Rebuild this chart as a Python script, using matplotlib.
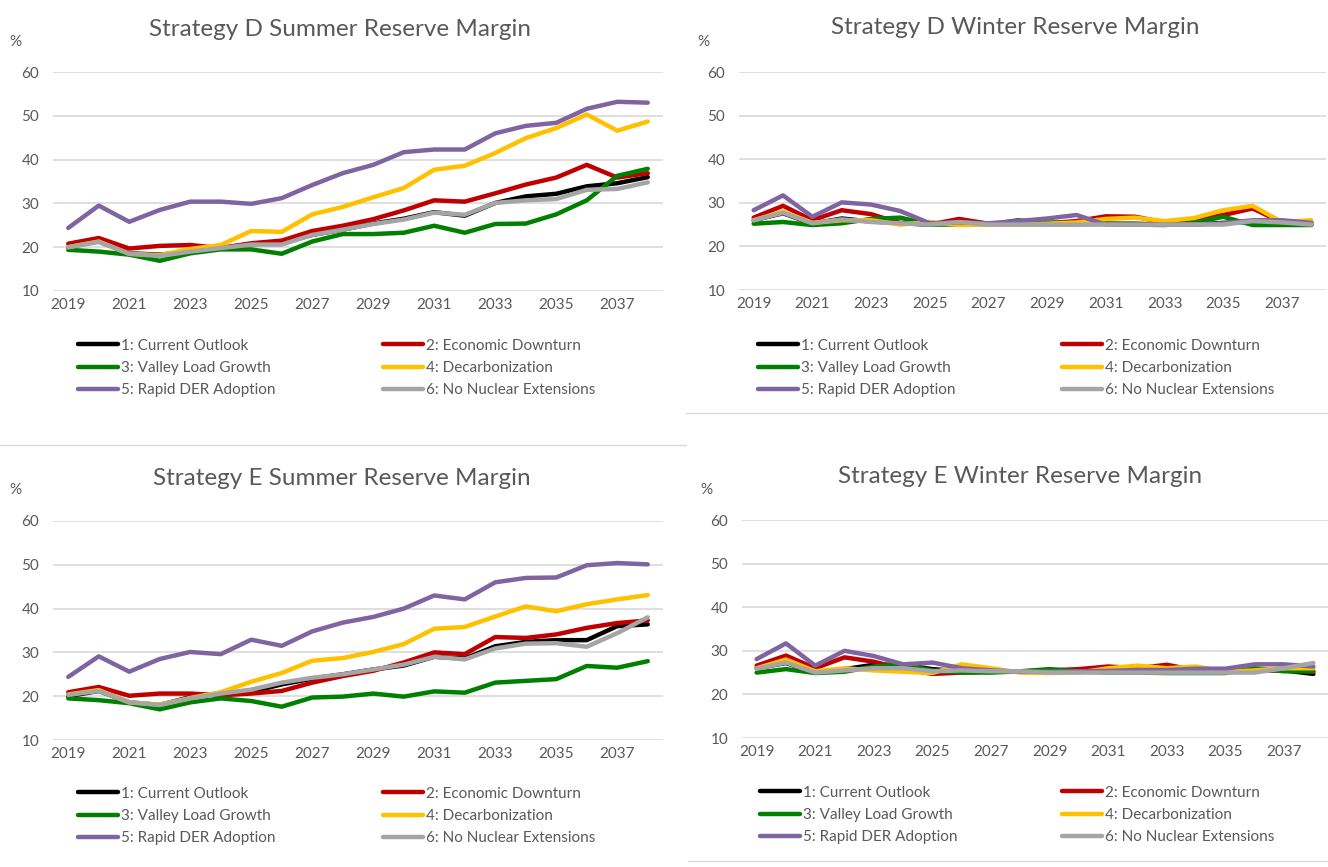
import matplotlib
matplotlib.use("Agg")
import matplotlib.pyplot as plt
from matplotlib.lines import Line2D
import numpy as np

plt.rcParams['font.family'] = ['Lato', 'DejaVu Sans']

years = np.arange(2019, 2039)
scenarios = ["1: Current Outlook", "2: Economic Downturn", "3: Valley Load Growth",
             "4: Decarbonization", "5: Rapid DER Adoption", "6: No Nuclear Extensions"]
colors = ["#000000", "#C00000", "#008000", "#FFC000", "#8064A2", "#A5A5A5"]

# reserve margin (%) per scenario, in the same order as `scenarios`
d_summer = [
    [20.0, 21.4, 18.6, 18.3, 19.0, 19.8, 20.7, 21.0, 22.8, 24.0, 25.4, 26.5, 28.0, 27.2, 30.1, 31.6, 32.2, 33.9, 34.6, 36.0],
    [20.8, 22.1, 19.7, 20.3, 20.5, 19.8, 20.9, 21.5, 23.7, 24.9, 26.4, 28.4, 30.7, 30.4, 32.3, 34.3, 35.9, 38.8, 35.9, 36.9],
    [19.4, 19.0, 18.3, 16.9, 18.6, 19.5, 19.5, 18.5, 21.3, 23.0, 23.0, 23.3, 24.9, 23.3, 25.3, 25.4, 27.5, 30.7, 36.3, 37.9],
    [20.0, 21.3, 18.5, 18.2, 19.6, 20.5, 23.7, 23.5, 27.5, 29.2, 31.4, 33.5, 37.7, 38.6, 41.5, 44.9, 47.2, 50.3, 46.6, 48.7],
    [24.4, 29.5, 25.8, 28.5, 30.4, 30.4, 29.9, 31.2, 34.2, 36.9, 38.8, 41.7, 42.3, 42.3, 46.0, 47.7, 48.4, 51.6, 53.2, 53.0],
    [20.0, 21.2, 18.5, 18.0, 19.0, 19.8, 20.6, 20.6, 22.8, 24.0, 25.3, 26.3, 27.9, 27.4, 30.1, 30.7, 31.0, 33.1, 33.3, 34.8],
]
d_winter = [
    [26.0, 27.6, 25.2, 26.4, 25.7, 25.4, 25.0, 25.6, 25.0, 25.1, 25.1, 25.1, 25.2, 25.2, 25.0, 25.0, 25.4, 25.6, 25.3, 25.0],
    [26.6, 29.3, 26.0, 28.3, 27.4, 25.3, 25.0, 26.3, 25.2, 25.3, 25.3, 25.8, 26.9, 26.8, 25.5, 26.2, 27.2, 28.7, 25.5, 25.5],
    [25.2, 25.6, 24.9, 25.3, 26.3, 26.6, 25.0, 25.0, 25.0, 26.0, 25.5, 25.3, 25.2, 25.0, 24.9, 25.4, 26.8, 24.9, 24.9, 24.9],
    [26.0, 28.0, 25.4, 26.0, 26.0, 25.0, 25.6, 24.9, 25.0, 25.0, 25.2, 25.5, 26.3, 26.6, 25.8, 26.5, 28.3, 29.3, 25.6, 26.0],
    [28.3, 31.7, 26.8, 30.1, 29.6, 28.1, 25.3, 25.5, 25.3, 25.8, 26.4, 27.2, 25.0, 25.0, 25.0, 25.0, 25.3, 26.0, 26.0, 25.4],
    [26.0, 27.7, 25.3, 26.2, 25.6, 25.3, 25.0, 25.6, 25.0, 25.0, 25.0, 25.0, 25.0, 25.0, 25.0, 25.0, 25.0, 25.8, 25.5, 25.0],
]
e_summer = [
    [20.0, 21.2, 18.6, 18.0, 19.8, 20.6, 21.0, 22.7, 24.0, 25.0, 26.1, 27.0, 29.0, 28.6, 31.4, 32.4, 32.8, 32.8, 36.0, 36.4],
    [20.9, 22.1, 20.1, 20.6, 20.6, 20.2, 20.6, 21.2, 23.1, 24.6, 25.8, 27.7, 30.0, 29.6, 33.5, 33.3, 34.1, 35.6, 36.7, 37.3],
    [19.5, 19.1, 18.4, 17.0, 18.6, 19.5, 18.9, 17.6, 19.7, 19.9, 20.6, 19.9, 21.1, 20.8, 23.1, 23.5, 23.9, 26.9, 26.5, 28.0],
    [20.4, 21.4, 18.6, 18.1, 19.6, 20.9, 23.3, 25.3, 28.1, 28.7, 30.1, 31.9, 35.4, 35.8, 38.2, 40.5, 39.4, 41.0, 42.1, 43.1],
    [24.4, 29.1, 25.6, 28.5, 30.1, 29.6, 32.9, 31.5, 34.8, 36.8, 38.1, 40.0, 43.0, 42.1, 46.0, 47.0, 47.1, 49.9, 50.4, 50.1],
    [20.3, 21.2, 18.6, 18.0, 19.5, 20.6, 21.5, 23.1, 24.2, 25.0, 26.1, 27.2, 29.0, 28.4, 30.9, 32.0, 32.1, 31.3, 34.4, 38.0],
]
e_winter = [
    [26.0, 27.2, 25.0, 25.8, 26.8, 26.8, 25.8, 25.3, 25.2, 25.2, 25.2, 25.2, 25.2, 25.2, 25.2, 25.2, 25.3, 25.5, 25.5, 24.7],
    [26.6, 28.9, 26.0, 28.5, 27.5, 25.8, 24.7, 25.0, 25.3, 25.3, 25.5, 25.8, 26.4, 26.0, 26.8, 25.5, 25.3, 25.6, 25.6, 25.2],
    [25.0, 25.8, 24.9, 25.2, 26.4, 26.9, 25.5, 25.0, 25.0, 25.3, 25.8, 25.3, 25.0, 25.0, 24.9, 24.9, 24.9, 26.0, 25.3, 25.3],
    [26.0, 28.0, 25.3, 26.0, 25.5, 25.2, 24.9, 26.9, 26.0, 25.0, 24.9, 25.0, 26.0, 26.6, 26.0, 26.4, 25.2, 25.5, 26.0, 26.0],
    [28.1, 31.7, 26.6, 30.0, 28.8, 26.9, 27.3, 26.0, 25.5, 25.2, 25.2, 25.3, 25.4, 25.6, 25.6, 25.9, 25.9, 26.9, 26.9, 26.4],
    [25.9, 27.3, 25.0, 25.5, 26.0, 26.0, 25.3, 25.5, 25.3, 25.3, 25.0, 25.0, 25.0, 25.0, 25.0, 25.0, 25.0, 25.0, 26.0, 27.2],
]

W, H = 1328, 867
TXT = "#595959"
GRID = "#D9D9D9"

fig = plt.figure(figsize=(W / 100, H / 100), dpi=100)


def px(x, y):
    # pixel position (top-left origin) -> figure fraction
    return x / W, 1 - y / H


def draw_panel(box, title, series, title_xy, pct_xy, leg_x, leg_y):
    left, top, right, bottom = box
    ax = fig.add_axes([left / W, 1 - bottom / H, (right - left) / W, (bottom - top) / H])
    for vals, c in zip(series, colors):
        ax.plot(years, vals, color=c, lw=3.2, solid_joinstyle="round", solid_capstyle="round")
    ax.set_xlim(2018.5, 2038.5)
    ax.set_ylim(10, 60)
    ax.set_yticks(range(10, 61, 10))
    ax.set_xticks(range(2019, 2038, 2))
    ax.grid(axis="y", color=GRID, lw=1.2)
    ax.set_axisbelow(True)
    for s in ax.spines.values():
        s.set_visible(False)
    ax.tick_params(length=0, labelsize=11, labelcolor=TXT)
    ax.tick_params(axis="y", pad=10)
    ax.tick_params(axis="x", pad=5)

    fig.text(*px(*title_xy), title, fontsize=17.5, color=TXT, ha="center", va="center")
    fig.text(*px(*pct_xy), "%", fontsize=11, color=TXT, ha="center", va="center")

    # two legend columns, rows read across: 1 2 / 3 4 / 5 6
    for col, x0 in enumerate(leg_x):
        idx = [col, col + 2, col + 4]
        handles = [Line2D([], [], color=colors[i], lw=3.2, solid_capstyle="round") for i in idx]
        fig.legend(handles, [scenarios[i] for i in idx], loc="center left",
                   bbox_to_anchor=px(x0, leg_y), frameon=False, fontsize=11,
                   handlelength=2.6, handletextpad=0.2, labelspacing=0.55,
                   borderpad=0, borderaxespad=0, labelcolor=TXT)
    return ax


draw_panel((53, 72, 663, 291), "Strategy D Summer Reserve Margin", d_summer,
           (340, 30), (15, 42), (78, 383), 368)
draw_panel((739, 72, 1326, 290), "Strategy D Winter Reserve Margin", d_winter,
           (1015, 28), (703, 42), (758, 1062), 368)
draw_panel((53, 521, 663, 740), "Strategy E Summer Reserve Margin", e_summer,
           (342, 478), (15, 490), (78, 383), 816)
draw_panel((742, 520, 1328, 738), "Strategy E Winter Reserve Margin", e_winter,
           (1020, 476), (706, 490), (760, 1062), 815)

# chart frame edges
for x0, x1, y in [(0, 686, 445), (686, 1328, 412.5), (688, 1328, 861)]:
    fig.add_artist(Line2D([x0 / W, x1 / W], [1 - y / H, 1 - y / H], color=GRID, lw=1))

fig.savefig("out.png", dpi=100)
